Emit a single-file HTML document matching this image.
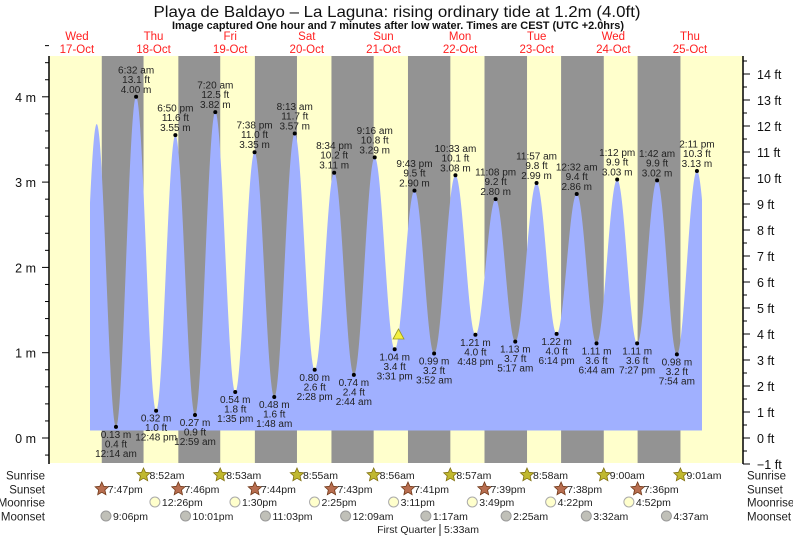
<!DOCTYPE html>
<html><head><meta charset="utf-8"><style>
html,body{margin:0;padding:0;background:#fff;}
svg{display:block;font-family:"Liberation Sans",Arial,sans-serif;}
</style></head><body>
<svg id="s" width="793" height="537" xmlns="http://www.w3.org/2000/svg"></svg>
<script>
const S=document.getElementById('s');
let h='';
const X=t=>38.6+3.193*t, Y=m=>438-85.3*m;
const PL=49,PR=743,PT=56,PB=463;
h+=`<rect x="${PL}" y="${PT}" width="${PR-PL}" height="${PB-PT}" fill="#ffffcc"/>`;
const sr=[8+52/60,8+53/60,8+55/60,8+56/60,8+57/60,8+58/60,9,9+1/60];
const ss=[19+47/60,19+46/60,19+44/60,19+43/60,19+41/60,19+39/60,19+38/60,19+36/60];
for(let i=0;i<8;i++){const a=X(i*24+ss[i]),b=X((i+1)*24+sr[i]);h+=`<rect x="${a}" y="${PT}" width="${b-a}" height="${PB-PT}" fill="#939393"/>`;}
const T=(d,hh,mm,pm)=>d*24+(hh%12+(pm?12:0))+mm/60;
const ev=[[12,0.1],[18.2,3.68],
[T(1,12,14,0),0.13,'12:14 am',0.4],[T(1,6,32,0),4.00,'6:32 am',13.1],[T(1,12,48,1),0.32,'12:48 pm',1.0],[T(1,6,50,1),3.55,'6:50 pm',11.6],
[T(2,12,59,0),0.27,'12:59 am',0.9],[T(2,7,20,0),3.82,'7:20 am',12.5],[T(2,1,35,1),0.54,'1:35 pm',1.8],[T(2,7,38,1),3.35,'7:38 pm',11.0],
[T(3,1,48,0),0.48,'1:48 am',1.6],[T(3,8,13,0),3.57,'8:13 am',11.7],[T(3,2,28,1),0.80,'2:28 pm',2.6],[T(3,8,34,1),3.11,'8:34 pm',10.2],
[T(4,2,44,0),0.74,'2:44 am',2.4],[T(4,9,16,0),3.29,'9:16 am',10.8],[T(4,3,31,1),1.04,'3:31 pm',3.4],[T(4,9,43,1),2.90,'9:43 pm',9.5],
[T(5,3,52,0),0.99,'3:52 am',3.2],[T(5,10,33,0),3.08,'10:33 am',10.1],[T(5,4,48,1),1.21,'4:48 pm',4.0],[T(5,11,8,1),2.80,'11:08 pm',9.2],
[T(6,5,17,0),1.13,'5:17 am',3.7],[T(6,11,57,0),2.99,'11:57 am',9.8],[T(6,6,14,1),1.22,'6:14 pm',4.0],
[T(7,12,32,0),2.86,'12:32 am',9.4],[T(7,6,44,0),1.11,'6:44 am',3.6],[T(7,1,12,1),3.03,'1:12 pm',9.9],[T(7,7,27,1),1.11,'7:27 pm',3.6],
[T(8,1,42,0),3.02,'1:42 am',9.9],[T(8,7,54,0),0.98,'7:54 am',3.2],[T(8,2,11,1),3.13,'2:11 pm',10.3],[T(8,8,25,1),0.9]];
function lv(t){for(let i=0;i<ev.length-1;i++){const a=ev[i],b=ev[i+1];if(t>=a[0]&&t<=b[0]){const f=(t-a[0])/(b[0]-a[0]);return a[1]+(b[1]-a[1])*(1-Math.cos(Math.PI*f))/2;}}return 0;}
const t0=(90-38.6)/3.193,t1=(702-38.6)/3.193;
let p=`M90,430.5`;
for(let t=t0;t<=t1;t+=0.05)p+=` L${X(t).toFixed(2)},${Y(lv(t)).toFixed(2)}`;
p+=` L702,${Y(lv(t1)).toFixed(2)} L702,430.5Z`;
h+=`<path d="${p}" fill="#a0b0ff"/>`;
for(let i=2;i<ev.length-1;i++){const e=ev[i],x=X(e[0]),y=Y(e[1]);const hi=e[1]>2;
h+=`<circle cx="${x}" cy="${y}" r="2" fill="#000"/>`;
const st=`font-size="10" fill="#222" text-anchor="middle"`;
if(hi){h+=`<text x="${x}" y="${y-4}" ${st}>${e[1].toFixed(2)} m</text><text x="${x}" y="${y-14}" ${st}>${e[3].toFixed(1)} ft</text><text x="${x}" y="${y-23.5}" ${st}>${e[2]}</text>`;}
else{h+=`<text x="${x}" y="${y+11}" ${st}>${e[1].toFixed(2)} m</text><text x="${x}" y="${y+20.5}" ${st}>${e[3].toFixed(1)} ft</text><text x="${x}" y="${y+30}" ${st}>${e[2]}</text>`;}}
h+=`<polygon points="398.5,329 393,339 404,339" fill="#f4f040" stroke="#999920" stroke-width="0.8"/>`;
h+=`<line x1="${PL}" y1="${PT}" x2="${PL}" y2="${PB+1}" stroke="#000" stroke-width="1.5"/><line x1="${PR}" y1="${PT}" x2="${PR}" y2="${PB+1}" stroke="#000" stroke-width="1.5"/>`;
for(let m=-0.2;m<=4.61;m+=0.2){const y=Y(m);const maj=Math.abs(m-Math.round(m))<0.01;h+=`<line x1="${maj?42:45}" y1="${y}" x2="${PL}" y2="${y}" stroke="#000"/>`;if(maj&&m>-0.1)h+=`<text x="36" y="${y+5}" font-size="12.5" text-anchor="end" fill="#111">${Math.round(m)} m</text>`;}
for(let f=-1;f<=14.6;f+=0.5){const y=Y(f*0.3048);if(y<PT)continue;const maj=Math.abs(f-Math.round(f))<0.01;h+=`<line x1="${PR}" y1="${y}" x2="${maj?750:747}" y2="${y}" stroke="#000"/>`;if(maj)h+=`<text x="757" y="${y+5}" font-size="12.5" fill="#111">${Math.round(f)<0?'\u22121':Math.round(f)} ft</text>`;}
h+=`<text x="397" y="17" font-size="16" text-anchor="middle" textLength="487" lengthAdjust="spacingAndGlyphs" fill="#111">Playa de Baldayo \u2013 La Laguna: rising  ordinary tide at 1.2m (4.0ft)</text>`;
h+=`<text x="398" y="29" font-size="11" font-weight="bold" text-anchor="middle" textLength="452" lengthAdjust="spacingAndGlyphs" fill="#111">Image captured One hour and 7 minutes after low water. Times are CEST (UTC +2.0hrs)</text>`;
const dn=['Wed','Thu','Fri','Sat','Sun','Mon','Tue','Wed','Thu'];
for(let i=0;i<9;i++){const x=X(i*24+12);h+=`<text x="${x}" y="40" font-size="11.5" fill="#ff2020" text-anchor="middle">${dn[i]}</text><text x="${x}" y="53" font-size="11.5" fill="#ff2020" text-anchor="middle">${17+i}-Oct</text>`;}
const rows=[['Sunrise',475],['Sunset',489],['Moonrise',502],['Moonset',516]];
rows.forEach(r=>{h+=`<text x="45" y="${r[1]+4.5}" font-size="11.5" text-anchor="end" fill="#222">${r[0]}</text><text x="747" y="${r[1]+4.5}" font-size="11.5" fill="#222">${r[0]}</text>`;});
function star(cx,cy,fill,st){let pts=[];for(let k=0;k<10;k++){const a=-Math.PI/2+k*Math.PI/5,rr=k%2?3.3:7;pts.push((cx+rr*Math.cos(a)).toFixed(1)+','+(cy+rr*Math.sin(a)).toFixed(1));}return `<polygon points="${pts.join(' ')}" fill="${fill}" stroke="${st}" stroke-width="0.8"/>`;}
const srL=['8:52am','8:53am','8:55am','8:56am','8:57am','8:58am','9:00am','9:01am'];
const ssL=['7:47pm','7:46pm','7:44pm','7:43pm','7:41pm','7:39pm','7:38pm','7:36pm'];
const lab=(x,y,s)=>`<text x="${x+6}" y="${y+4}" font-size="10.5" fill="#222">${s}</text>`;
for(let i=0;i<8;i++){let x=X((i+1)*24+sr[i]);h+=star(x,475,'#c0b830','#807010')+lab(x,475,srL[i]);x=X(i*24+ss[i]);h+=star(x,489,'#b86e50','#703818')+lab(x,489,ssL[i]);}
const mr=[[1,12.43,'12:26pm'],[2,13.5,'1:30pm'],[3,14.42,'2:25pm'],[4,15.18,'3:11pm'],[5,15.82,'3:49pm'],[6,16.37,'4:22pm'],[7,16.87,'4:52pm']];
mr.forEach(m=>{const x=X(m[0]*24+m[1]);h+=`<circle cx="${x}" cy="502" r="5" fill="#ffffcc" stroke="#aaa"/>`+lab(x+1,502,m[2]);});
const ms=[[0,21.1,'9:06pm'],[1,22.02,'10:01pm'],[2,23.05,'11:03pm'],[4,0.15,'12:09am'],[5,1.28,'1:17am'],[6,2.42,'2:25am'],[7,3.53,'3:32am'],[8,4.62,'4:37am']];
ms.forEach(m=>{const x=X(m[0]*24+m[1]);h+=`<circle cx="${x}" cy="516" r="5" fill="#c0c0b8" stroke="#999"/>`+lab(x+1,516,m[2]);});
h+=`<text x="436" y="533" font-size="10.5" text-anchor="end" fill="#222">First Quarter</text><line x1="440" y1="524" x2="440" y2="536" stroke="#222"/><text x="444" y="533" font-size="10.5" fill="#222">5:33am</text>`;
S.innerHTML=h;
</script>
</body></html>
